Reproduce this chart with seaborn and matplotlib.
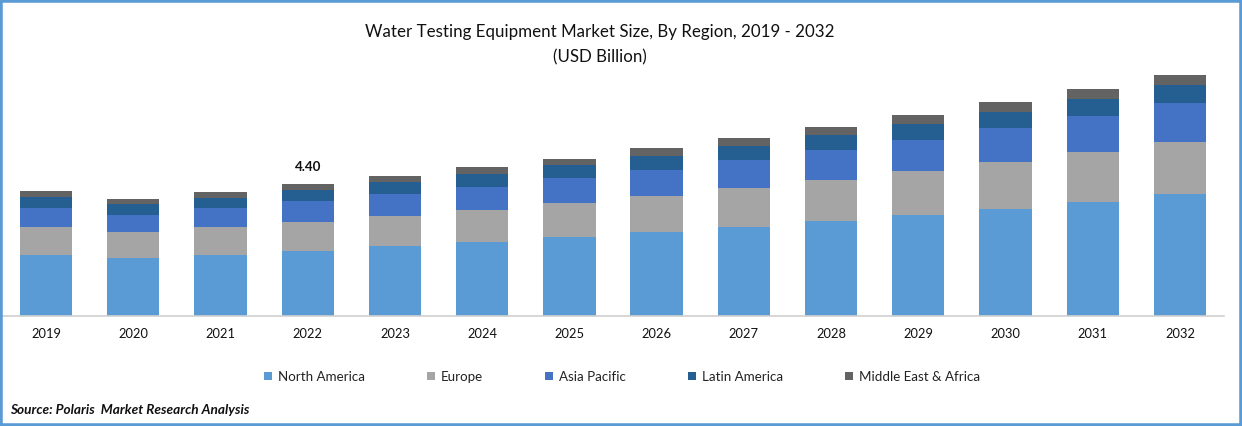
import numpy as np
import matplotlib.pyplot as plt
from matplotlib.patches import Rectangle
import seaborn as sns

years = [2019, 2020, 2021, 2022, 2023, 2024, 2025, 2026, 2027, 2028, 2029, 2030, 2031, 2032]
north_america = [2.03, 1.93, 2.03, 2.16, 2.33, 2.47, 2.63, 2.80, 2.97, 3.17, 3.37, 3.57, 3.80, 4.07]
europe = [0.93, 0.87, 0.93, 0.97, 1.00, 1.07, 1.13, 1.20, 1.30, 1.37, 1.47, 1.57, 1.67, 1.73]
asia_pacific = [0.63, 0.57, 0.63, 0.70, 0.73, 0.77, 0.83, 0.87, 0.93, 1.00, 1.03, 1.13, 1.20, 1.30]
latin_america = [0.37, 0.37, 0.33, 0.37, 0.40, 0.43, 0.43, 0.47, 0.47, 0.50, 0.53, 0.53, 0.57, 0.60]
mea = [0.20, 0.17, 0.20, 0.20, 0.20, 0.23, 0.23, 0.27, 0.27, 0.27, 0.30, 0.33, 0.33, 0.33]

series = [
    ('North America', north_america, '#5B9BD5'),
    ('Europe', europe, '#A5A5A5'),
    ('Asia Pacific', asia_pacific, '#4472C4'),
    ('Latin America', latin_america, '#255E91'),
    ('Middle East & Africa', mea, '#636363'),
]

sns.set_theme(style='white')
plt.rcParams['font.family'] = ['Lato', 'DejaVu Sans']

fig = plt.figure(figsize=(12.42, 4.26), dpi=100)
# axes in pixels: left 2, right 1224, baseline y=316, top y=16
ax = fig.add_axes([2.4 / 1242, (426 - 316) / 426, (1223.6 - 2.4) / 1242, 300 / 426])

bottom = np.zeros(len(years))
for name, vals, color in series:
    sns.barplot(x=years, y=vals, bottom=bottom, color=color, saturation=1, width=0.6,
                linewidth=0, label=name, legend=False, ax=ax)
    bottom = bottom + np.array(vals)

ax.set_xlim(-0.5, len(years) - 0.5)
ax.set_ylim(0, 10)
ax.set_yticks([])
ax.set_xlabel('')
ax.set_ylabel('')
ax.tick_params(axis='x', length=0, pad=9, labelsize=9.3, colors='#111111')
sns.despine(ax=ax, left=True)
ax.spines['bottom'].set_color('#D0D0D0')
ax.spines['bottom'].set_linewidth(1.2)

# only 2022 has a value label
ax.text(3, bottom[3] + 0.58, f'{bottom[3]:.2f}', ha='center', va='center',
        fontsize=9.6, fontweight='bold', color='#111111')

fig.text(600 / 1242, 1 - 32 / 426, 'Water Testing Equipment Market Size, By Region, 2019 - 2032',
         ha='center', va='center', fontsize=12.2, color='#111111')
fig.text(600 / 1242, 1 - 57 / 426, '(USD Billion)', ha='center', va='center',
         fontsize=12.2, color='#111111')

handles, labels = ax.get_legend_handles_labels()
fig.legend(handles, labels, loc='center', bbox_to_anchor=(622 / 1242, 1 - 377 / 426), ncol=5,
           frameon=False, fontsize=9.6, handlelength=0.55, handleheight=0.55,
           handletextpad=0.45, columnspacing=4.7, labelcolor='#222222')

fig.text(10 / 1242, 1 - 410 / 426, 'Source: Polaris  Market Research Analysis', ha='left', va='center',
         fontsize=9.8, fontweight='bold', fontstyle='italic', color='#111111')

# thin blue frame around the picture
fig.add_artist(Rectangle((0, 0), 1, 1, transform=fig.transFigure, fill=False,
                         edgecolor='#5B9BD5', linewidth=4))

fig.savefig('out.png', dpi=100)
